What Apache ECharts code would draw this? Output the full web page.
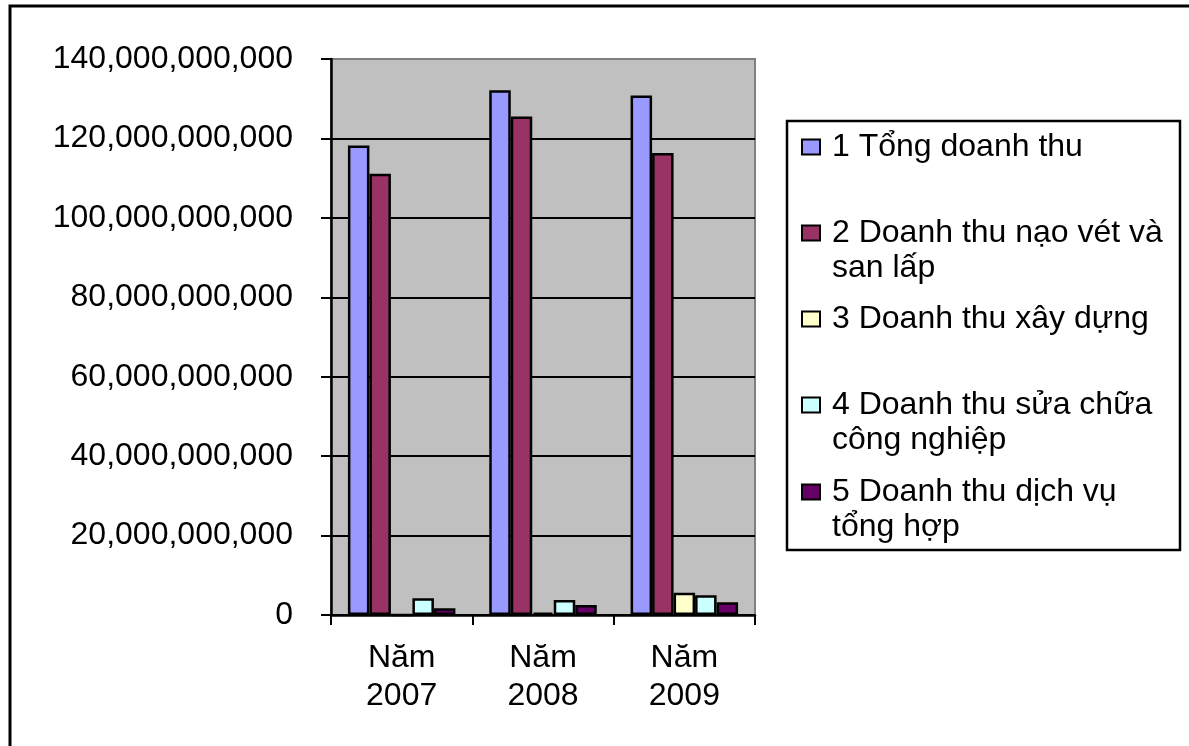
<!DOCTYPE html>
<html>
<head>
<meta charset="utf-8">
<script src="https://cdn.jsdelivr.net/npm/echarts@6/dist/echarts.min.js"></script>
<style>
    html, body { margin: 0; padding: 0; background: #fff; }
    #chart { width: 1189px; height: 746px; }
</style>
</head>
<body>
<div id="chart"></div>
<script>
// categories and values (VND)
var years = ['Năm\n2007', 'Năm\n2008', 'Năm\n2009'];
var seriesNames = [
    '1 Tổng doanh thu',
    '2 Doanh thu nạo vét và san lấp',
    '3 Doanh thu xây dựng',
    '4 Doanh thu sửa chữa công nghiệp',
    '5 Doanh thu dịch vụ tổng hợp'
];
// how each legend entry wraps
var legendLines = [
    ['1 Tổng doanh thu'],
    ['2 Doanh thu nạo vét và', 'san lấp'],
    ['3 Doanh thu xây dựng'],
    ['4 Doanh thu sửa chữa', 'công nghiệp'],
    ['5 Doanh thu dịch vụ', 'tổng hợp']
];
var tongDoanhThu = [118.2e9, 132.1e9, 130.8e9];
var naoVetSanLap = [111.1e9, 125.5e9, 116.3e9];
var xayDung      = [0,       0.6e9,   5.6e9];
var suaChua      = [4.2e9,   3.8e9,   5.0e9];
var dichVu       = [1.7e9,   2.5e9,   3.2e9];
var seriesValues = [tongDoanhThu, naoVetSanLap, xayDung, suaChua, dichVu];
var colors = ['#9999FF', '#993366', '#FFFFCC', '#CCFFFF', '#660066'];

var font = "'Liberation Sans', Arial, sans-serif";
var chart = echarts.init(document.getElementById('chart'));

// first-line centre of each legend entry
var legendCentres = [147, 233, 319, 405, 492];
var legends = legendLines.map(function (lines, i) {
    var twoLines = lines.length > 1;
    return {
        data: [{name: seriesNames[i], icon: 'rect'}],
        left: 801,
        top: twoLines ? legendCentres[i] - 52.5 : legendCentres[i] - 17.5,
        padding: 0,
        itemWidth: 18,
        itemHeight: 15,
        selectedMode: false,
        formatter: function () {
            // a blank first line keeps the marker level with the first text line
            return twoLines ? '\n' + lines.join('\n') : lines[0];
        },
        textStyle: {
            fontFamily: font,
            fontSize: 32,
            lineHeight: 35,
            color: '#000',
            padding: [0, 0, 0, 7]
        }
    };
});

chart.setOption({
    animation: false,
    backgroundColor: '#fff',
    textStyle: {fontFamily: font},
    grid: {
        left: 331,
        top: 59,
        width: 424,
        height: 556,
        show: true,
        backgroundColor: '#C0C0C0',
        borderColor: '#808080',
        borderWidth: 2
    },
    legend: legends,
    xAxis: {
        type: 'category',
        data: years,
        axisLine: {lineStyle: {color: '#000', width: 2.5}},
        axisTick: {show: true, length: 10, lineStyle: {color: '#000', width: 2}},
        axisLabel: {
            color: '#000',
            fontSize: 32,
            lineHeight: 38,
            margin: 24,
            fontFamily: font
        }
    },
    yAxis: {
        type: 'value',
        min: 0,
        max: 140e9,
        interval: 20e9,
        axisLine: {show: true, lineStyle: {color: '#000', width: 2.5}},
        axisTick: {show: true, length: 10, lineStyle: {color: '#000', width: 2}},
        axisLabel: {
            color: '#000',
            fontSize: 32,
            margin: 38,
            fontFamily: font,
            formatter: function (v) { return v.toLocaleString('en-US'); }
        },
        splitLine: {show: true, showMaxLine: false, lineStyle: {color: '#000', width: 2}}
    },
    series: seriesNames.map(function (name, i) {
        return {
            name: name,
            type: 'bar',
            data: seriesValues[i],
            barWidth: 21.5,
            barGap: '0%',
            itemStyle: {color: colors[i], borderColor: '#000', borderWidth: 2.5}
        };
    }),
    graphic: [
        {   // outer chart frame, runs past the right and bottom edges
            type: 'rect',
            shape: {x: 10, y: 6, width: 1300, height: 900},
            style: {fill: 'none', stroke: '#000', lineWidth: 3},
            silent: true
        },
        {   // legend frame
            type: 'rect',
            shape: {x: 787, y: 121, width: 393, height: 429},
            style: {fill: 'none', stroke: '#000', lineWidth: 2.5},
            silent: true
        }
    ]
});
</script>
</body>
</html>
